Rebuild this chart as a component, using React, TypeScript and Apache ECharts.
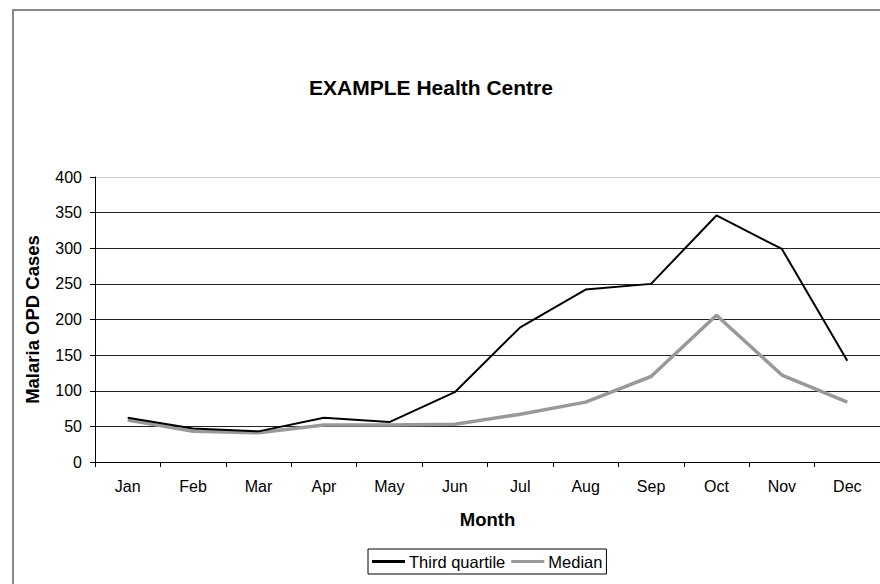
import React, { useEffect, useRef } from "react";
import * as echarts from "echarts";

const months = ["Jan", "Feb", "Mar", "Apr", "May", "Jun", "Jul", "Aug", "Sep", "Oct", "Nov", "Dec"];
const thirdQuartile = [62, 47, 43, 62, 56, 98, 189, 242, 250, 346, 299, 142];
const median = [59, 43, 41, 52, 52, 53, 67, 84, 120, 206, 122, 84];
const yTicks = { min: 0, max: 400, interval: 50 };

const FONT = "'Liberation Sans', Arial, sans-serif";

export default function App() {
  const ref = useRef<HTMLDivElement>(null);
  useEffect(() => {
    if (!ref.current) return;
    const chart = echarts.init(ref.current, undefined, { renderer: "svg" });
    chart.setOption({
      animation: false,
      backgroundColor: "#fff",
      textStyle: { fontFamily: FONT },
      title: {
        text: "EXAMPLE Health Centre",
        left: 431,
        top: 77,
        textAlign: "center",
        padding: 0,
        textStyle: { fontFamily: FONT, fontSize: 21, fontWeight: "bold", color: "#000" },
      },
      graphic: [
        {
          type: "rect",
          shape: { x: 13, y: 10, width: 900, height: 600 },
          style: { fill: "none", stroke: "#888", lineWidth: 2 },
          silent: true,
          z: -10,
        },
      ],
      legend: {
        data: [
          { name: "Third quartile", icon: "rect" },
          { name: "Median", icon: "rect" },
        ],
        left: 368,
        top: 549,
        orient: "horizontal",
        itemWidth: 33,
        itemHeight: 3,
        itemGap: 6,
        padding: [4, 4],
        borderColor: "#000",
        borderWidth: 1,
        textStyle: { fontFamily: FONT, fontSize: 16.5, color: "#000", padding: [0, 0, 0, -1] },
      },
      grid: { left: 95, right: -2, top: 177, bottom: 122, containLabel: false },
      xAxis: {
        type: "category",
        data: months,
        boundaryGap: true,
        name: "Month",
        nameLocation: "middle",
        nameGap: 48,
        nameTextStyle: { fontFamily: FONT, fontSize: 18.5, fontWeight: "bold", color: "#000" },
        axisLine: { show: true, lineStyle: { color: "#000", width: 1 } },
        axisTick: { show: true, length: 5, alignWithLabel: false, lineStyle: { color: "#000" } },
        axisLabel: { fontFamily: FONT, fontSize: 16, color: "#000", margin: 16, interval: 0 },
        splitLine: { show: false },
      },
      yAxis: {
        type: "value",
        min: yTicks.min,
        max: yTicks.max,
        interval: yTicks.interval,
        name: "Malaria OPD Cases",
        nameLocation: "middle",
        nameGap: 53,
        nameTextStyle: { fontFamily: FONT, fontSize: 18.5, fontWeight: "bold", color: "#000" },
        axisLine: { show: true, lineStyle: { color: "#000", width: 1 } },
        axisTick: { show: true, length: 5, lineStyle: { color: "#000" } },
        axisLabel: { fontFamily: FONT, fontSize: 16, color: "#000", margin: 13 },
        splitLine: {
          show: true,
          lineStyle: { color: ["#222", "#222", "#222", "#222", "#222", "#222", "#222", "#222", "#c8c8c8"], width: 1 },
        },
      },
      series: [
        {
          name: "Third quartile",
          type: "line",
          data: thirdQuartile,
          symbol: "none",
          lineStyle: { color: "#000", width: 2 },
          itemStyle: { color: "#000" },
          z: 3,
        },
        {
          name: "Median",
          type: "line",
          data: median,
          symbol: "none",
          lineStyle: { color: "#999", width: 3.5 },
          itemStyle: { color: "#999" },
          z: 2,
        },
      ],
    });
    return () => chart.dispose();
  }, []);
  return (
    <div style={{ position: "fixed", left: 0, top: 0, width: 880, height: 584, overflow: "hidden" }}>
      <div ref={ref} style={{ width: 880, height: 584 }} />
    </div>
  );
}
